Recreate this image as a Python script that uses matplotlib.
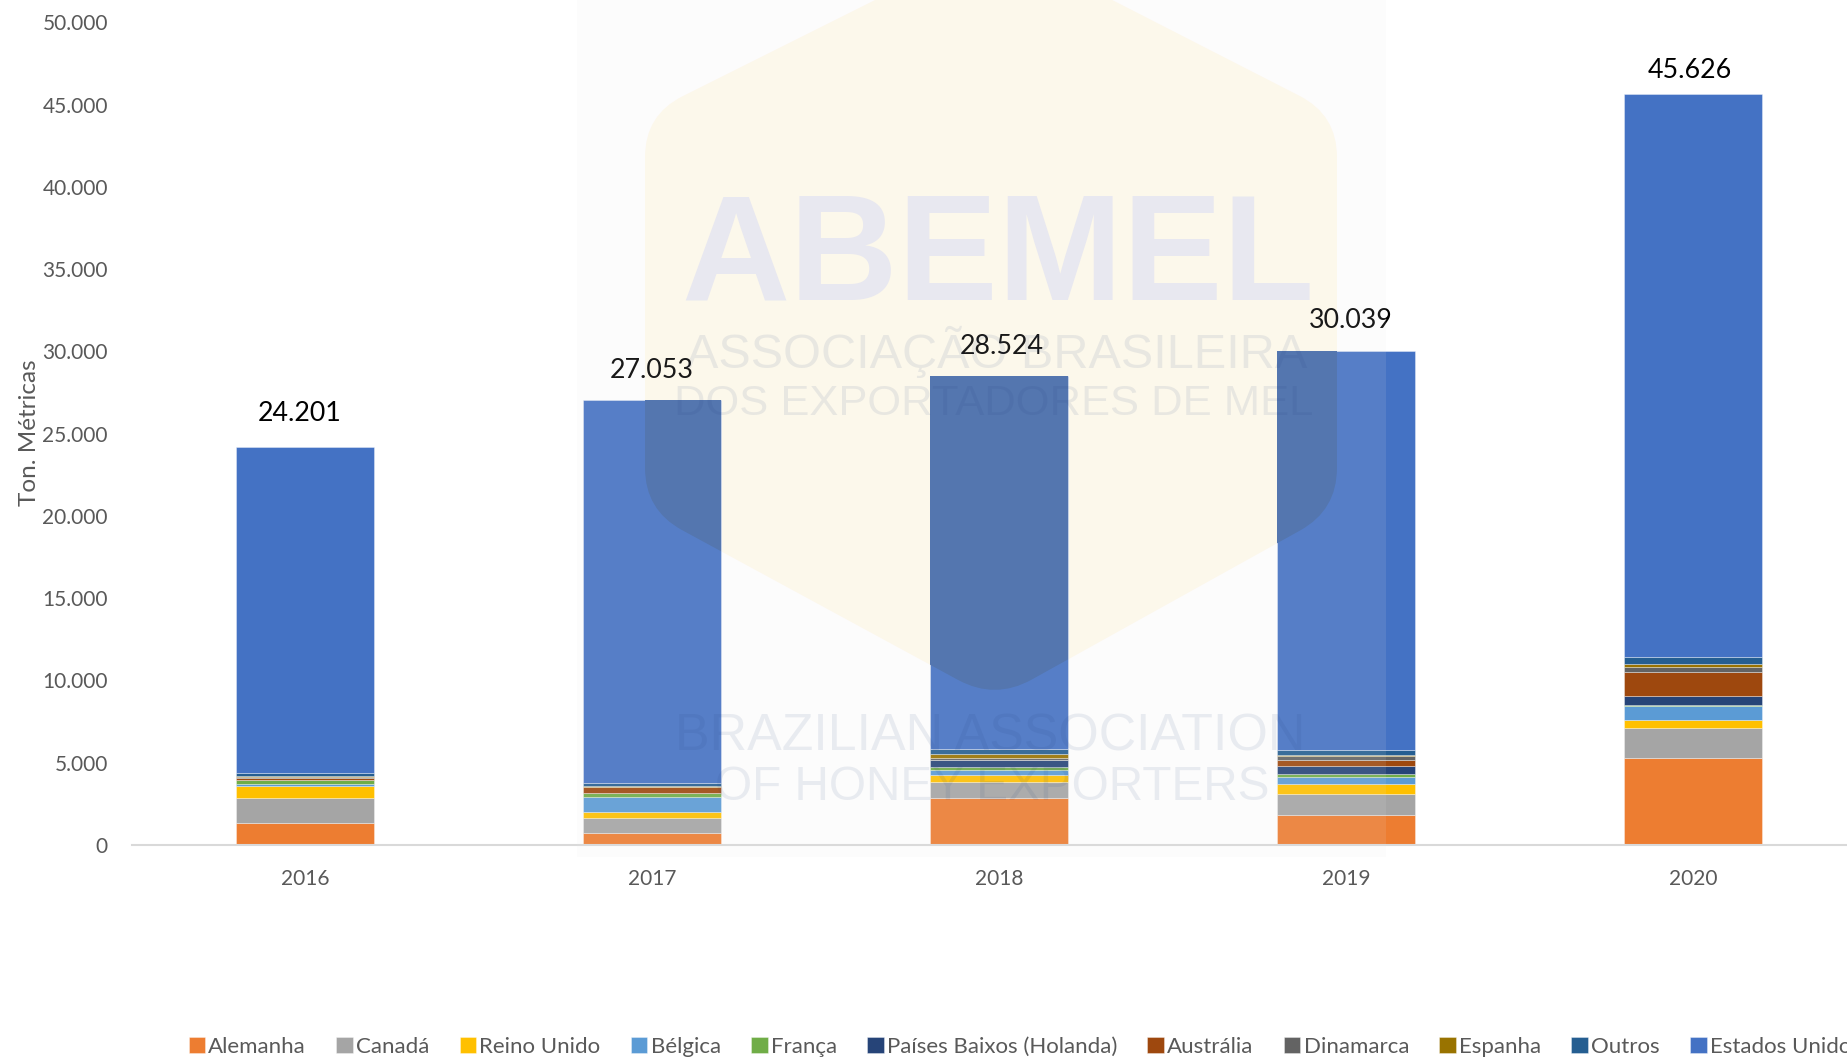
import numpy as np
import matplotlib
matplotlib.use("Agg")
import matplotlib.pyplot as plt
from matplotlib.path import Path
from matplotlib.patches import PathPatch, Rectangle
from matplotlib.ticker import FuncFormatter

plt.rcParams["font.family"] = ["Lato", "DejaVu Sans"]

W, H = 1847, 1059

anos = ["2016", "2017", "2018", "2019", "2020"]
totais = [24201, 27053, 28524, 30039, 45626]

alemanha = [1325, 750, 2857, 1803, 5309]
canada = [1545, 910, 952, 1277, 1803]
reino_unido = [700, 366, 446, 628, 507]
belgica = [165, 892, 304, 446, 851]
franca = [220, 243, 162, 182, 20]
paises_baixos = [20, 10, 426, 466, 547]
australia = [80, 355, 40, 345, 1500]
dinamarca = [50, 20, 122, 243, 284]
espanha = [100, 60, 244, 101, 203]
outros = [200, 162, 304, 284, 425]
estados_unidos = [19796, 23285, 22667, 24264, 34177]

series = [
    ("Alemanha", alemanha, "#ED7D31"),
    ("Canadá", canada, "#A5A5A5"),
    ("Reino Unido", reino_unido, "#FFC000"),
    ("Bélgica", belgica, "#5B9BD5"),
    ("França", franca, "#70AD47"),
    ("Países Baixos (Holanda)", paises_baixos, "#264478"),
    ("Austrália", australia, "#9E480E"),
    ("Dinamarca", dinamarca, "#636363"),
    ("Espanha", espanha, "#997300"),
    ("Outros", outros, "#255E91"),
    ("Estados Unidos", estados_unidos, "#4472C4"),
]

# ajuste manual dos rotulos (pontos)
label_dx = [-4.2, -0.5, 1.7, 3.4, -2.5]
label_dy = [24, 21, 21, 22, 17]


def px(x, y):
    return x / W, 1 - y / H


def rounded_path(verts, r):
    # hexagono com cantos arredondados, em pixels, convertido para fracao da figura
    codes, pts = [], []
    n = len(verts)
    for i in range(n):
        p = np.array(verts[i], dtype=float)
        a = np.array(verts[i - 1], dtype=float)
        b = np.array(verts[(i + 1) % n], dtype=float)
        p1 = p + (a - p) / np.linalg.norm(a - p) * r
        p2 = p + (b - p) / np.linalg.norm(b - p) * r
        codes += [Path.MOVETO if i == 0 else Path.LINETO, Path.CURVE3, Path.CURVE3]
        pts += [px(*p1), px(*p), px(*p2)]
    codes.append(Path.CLOSEPOLY)
    pts.append(pts[0])
    return Path(pts, codes)


fig = plt.figure(figsize=(W / 100, H / 100), dpi=100)
ax = fig.add_axes([131.5 / W, (H - 845) / H, 1735 / W, 822.6 / H])
ax.patch.set_visible(False)

x = np.arange(len(anos))

# fundo do logo (hexagono)
hex_verts = [(995, -60), (1337, 115), (1337, 510), (995, 700), (645, 510), (645, 115)]
hex_patch = PathPatch(rounded_path(hex_verts, 42), transform=fig.transFigure,
                      facecolor="#FFFAEC", edgecolor="none", zorder=0, clip_on=False)
ax.add_patch(hex_patch)

bottom = np.zeros(len(anos))
handles = []
for nome, valores, cor in series:
    bars = ax.bar(x, valores, 0.4, bottom=bottom, color=cor, label=nome,
                  edgecolor=(1, 1, 1, 0.35), linewidth=0.7, zorder=2)
    handles.append(bars)
    # mesma barra escurecida dentro do hexagono
    rgb = np.array(matplotlib.colors.to_rgb(cor)) * [0.97, 0.92, 0.86]
    over = ax.bar(x, valores, 0.4, bottom=bottom, color=tuple(rgb), linewidth=0, zorder=3)
    for b in over:
        b.set_clip_path(hex_patch)
    bottom += np.array(valores)

ax.set_xlim(-0.5, 4.5)
ax.set_ylim(0, 50000)
ax.set_xticks(x)
ax.set_xticklabels(anos)
ax.set_yticks(np.arange(0, 50001, 5000))
ax.yaxis.set_major_formatter(FuncFormatter(lambda v, p: f"{v:,.0f}".replace(",", ".")))
ax.tick_params(axis="both", length=0, labelsize=15, labelcolor="#595959")
ax.tick_params(axis="y", pad=17)
ax.tick_params(axis="x", pad=17)
for s in ["top", "right", "left"]:
    ax.spines[s].set_visible(False)
ax.spines["bottom"].set_color("#D9D9D9")
ax.spines["bottom"].set_linewidth(1.5)

fig.text(*px(29, 433), "Ton. Métricas", rotation=90, ha="center", va="center",
         fontsize=17.5, color="#595959")

for i, total in enumerate(totais):
    ax.annotate(f"{total:,}".replace(",", "."), (x[i], total), xytext=(label_dx[i], label_dy[i]),
                textcoords="offset points", ha="center", va="center",
                fontsize=19.3, color="black", zorder=8)

# marca d'agua
wm = dict(ha="center", va="center", color="#1F3A7A", alpha=0.085, zorder=6)
fig.text(*px(998, 260), "ABEMEL", family="Liberation Sans", fontweight="bold", fontsize=108,
         ha="center", va="center", color="#E9E9F1", zorder=1)
fig.text(*px(997, 352), "ASSOCIAÇÃO BRASILEIRA", family="Liberation Sans", fontsize=35, **wm)
fig.text(*px(994, 404), "DOS EXPORTADORES DE MEL", family="Liberation Sans", fontsize=31.3, **wm)
fig.text(*px(990, 737), "BRAZILIAN ASSOCIATION", family="Liberation Sans", fontsize=37.4, **wm)
fig.text(*px(992, 787), "OF HONEY EXPORTERS", family="Liberation Sans", fontsize=34.4, **wm)

# veu claro da imagem sobreposta
fig.add_artist(Rectangle((577 / W, (H - 857) / H), (1386 - 577) / W, 857 / H, transform=fig.transFigure,
                         facecolor="#E8E8E8", alpha=0.11, edgecolor="none", zorder=5))

leg = fig.legend(handles=handles, loc="lower left", bbox_to_anchor=(188.5 / W, 2 / H),
                 ncol=11, frameon=False, fontsize=16, labelcolor="#595959",
                 handlelength=0.75, handleheight=0.75, handletextpad=0.14, columnspacing=1.36,
                 borderaxespad=0, borderpad=0)

plt.savefig("out.png", dpi=100)
